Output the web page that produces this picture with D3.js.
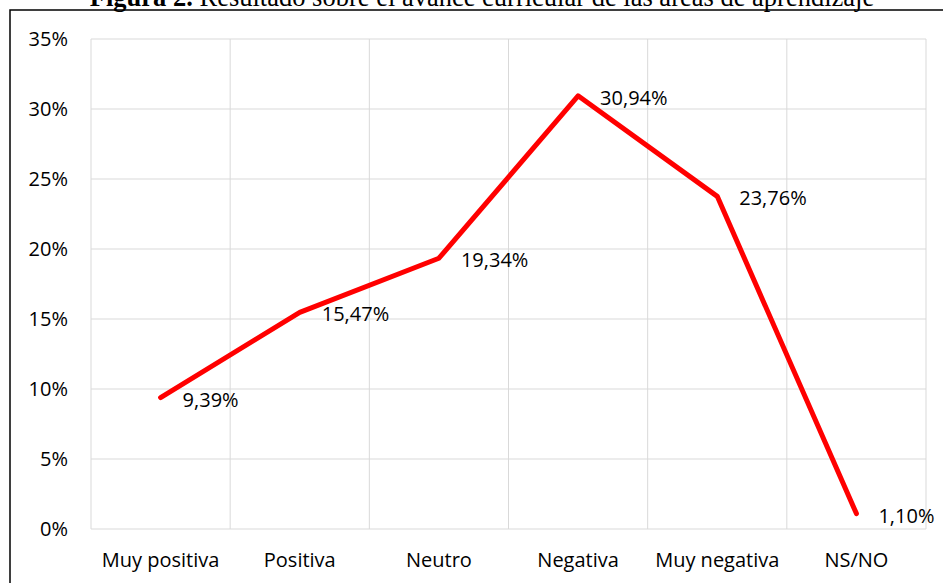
<!DOCTYPE html>
<html>
<head>
<meta charset="utf-8">
<script src="https://cdn.jsdelivr.net/npm/d3@7"></script>
<style>
  body { margin: 0; background: #fff; }
  svg { display: block; }
</style>
</head>
<body>
<div id="chart"></div>
<script>
const categories = ["Muy positiva", "Positiva", "Neutro", "Negativa", "Muy negativa", "NS/NO"];
const values = [9.39, 15.47, 19.34, 30.94, 23.76, 1.10];
const yTicks = [0, 5, 10, 15, 20, 25, 30, 35];

const W = 943, H = 583;
const margin = { top: 39, left: 91, right: 17, bottom: 54 };
const width = W - margin.left - margin.right;
const height = H - margin.top - margin.bottom;
const font = "'Open Sans', Lato, sans-serif";
const fontSize = "20px";

const svg = d3.select("#chart").append("svg")
  .attr("width", W)
  .attr("height", H);

// outer frame (right and bottom edges fall outside the picture)
svg.append("rect")
  .attr("x", 10).attr("y", 10)
  .attr("width", W + 20).attr("height", H + 20)
  .attr("fill", "none")
  .attr("stroke", "#000")
  .attr("stroke-width", 1.5);

// title, clipped at the top like in the source
const title = svg.append("text")
  .attr("x", 482).attr("y", 6)
  .attr("text-anchor", "middle")
  .style("font-family", "'Liberation Serif', 'Times New Roman', serif")
  .style("font-size", "26.5px");
title.append("tspan").style("font-weight", "bold").text("Figura 2.");
title.append("tspan").text(" Resultado sobre el avance curricular de las áreas de aprendizaje");

const g = svg.append("g")
  .attr("transform", `translate(${margin.left},${margin.top})`);

const x = d3.scaleBand().domain(categories).range([0, width]);
const y = d3.scaleLinear().domain([0, 35]).range([height, 0]);

// horizontal grid
g.selectAll(".hgrid")
  .data(yTicks)
  .enter().append("line")
  .attr("x1", 0).attr("x2", width)
  .attr("y1", d => y(d)).attr("y2", d => y(d))
  .attr("stroke", "#d9d9d9")
  .attr("stroke-width", 1);

// vertical grid at category boundaries
const bounds = categories.map(c => x(c)).concat([width]);
g.selectAll(".vgrid")
  .data(bounds)
  .enter().append("line")
  .attr("x1", d => d).attr("x2", d => d)
  .attr("y1", 0).attr("y2", height)
  .attr("stroke", "#d9d9d9")
  .attr("stroke-width", 1);

// y axis labels
const yAxis = d3.axisLeft(y).tickValues(yTicks).tickFormat(d => d + "%").tickSize(0).tickPadding(23);
g.append("g").call(yAxis)
  .call(s => s.select(".domain").remove())
  .selectAll("text")
  .style("font-family", font)
  .style("font-size", fontSize)
  .attr("fill", "#000");

// x axis labels
const xAxis = d3.axisBottom(x).tickSize(0).tickPadding(24);
g.append("g").attr("transform", `translate(0,${height})`).call(xAxis)
  .call(s => s.select(".domain").remove())
  .selectAll("text")
  .style("font-family", font)
  .style("font-size", fontSize)
  .attr("fill", "#000");

const cx = c => x(c) + x.bandwidth() / 2;

const line = d3.line()
  .x((d, i) => cx(categories[i]))
  .y(d => y(d));

g.append("path")
  .datum(values)
  .attr("d", line)
  .attr("fill", "none")
  .attr("stroke", "#ff0000")
  .attr("stroke-width", 5)
  .attr("stroke-linejoin", "round")
  .attr("stroke-linecap", "round");

// data labels
g.selectAll(".lbl")
  .data(values)
  .enter().append("text")
  .attr("x", (d, i) => cx(categories[i]) + 22)
  .attr("y", d => y(d) + 2)
  .attr("dy", "0.35em")
  .style("font-family", font)
  .style("font-size", fontSize)
  .attr("fill", "#000")
  .text(d => d.toFixed(2).replace(".", ",") + "%");
</script>
</body>
</html>
